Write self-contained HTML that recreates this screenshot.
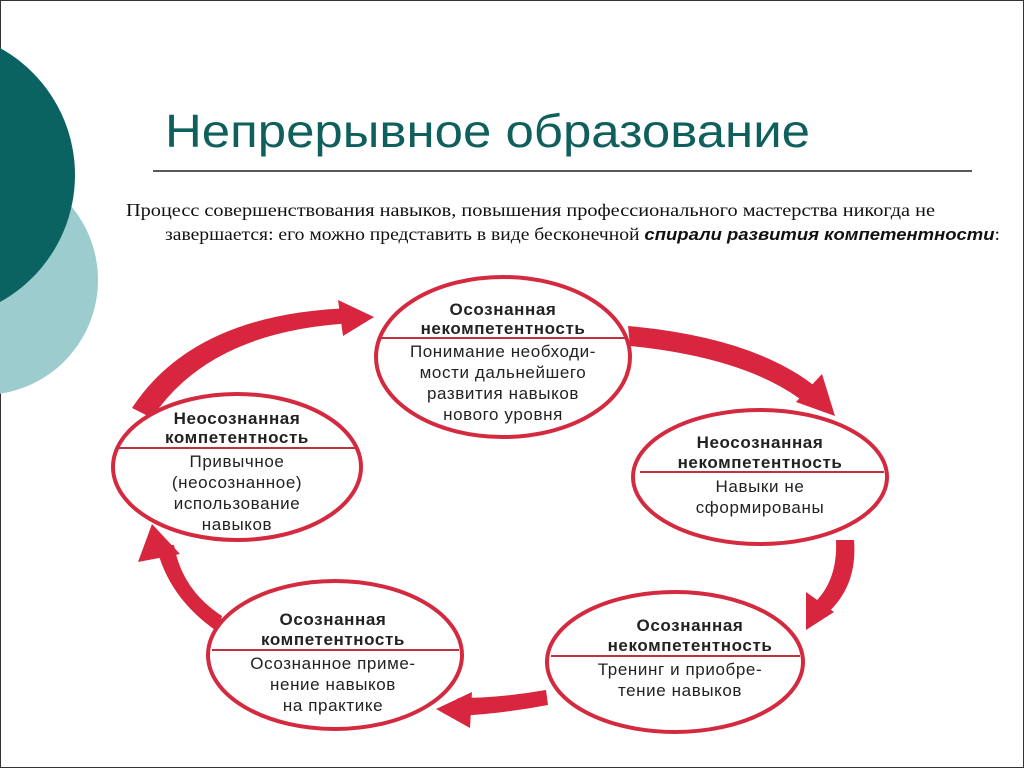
<!DOCTYPE html>
<html><head><meta charset="utf-8"><style>
html,body{margin:0;padding:0;background:#fff;}
body{width:1024px;height:768px;overflow:hidden;position:relative;}
</style></head><body>
<svg width="1024" height="768" viewBox="0 0 1024 768" xmlns="http://www.w3.org/2000/svg" style="position:absolute;left:0;top:0">
<rect x="0.5" y="0.5" width="1023" height="767" fill="#fff" stroke="#333" stroke-width="1"/>
<circle cx="-17" cy="280" r="115" fill="#9ccccd"/>
<circle cx="-70" cy="175" r="145" fill="#0a6360"/>
<text x="165" y="147" font-family="Liberation Sans, sans-serif" font-size="46" fill="#0f5f5c" textLength="645" lengthAdjust="spacingAndGlyphs">Непрерывное образование</text>
<line x1="153" y1="171" x2="972" y2="171" stroke="#222" stroke-width="1.5"/>
<text x="126" y="216" font-family="Liberation Serif, serif" font-size="17.5" fill="#111" textLength="809" lengthAdjust="spacingAndGlyphs">Процесс совершенствования навыков, повышения профессионального мастерства никогда не</text>
<text x="165" y="240" font-family="Liberation Serif, serif" font-size="17.5" fill="#111" textLength="835" lengthAdjust="spacingAndGlyphs">завершается: его можно представить в виде бесконечной <tspan font-family="Liberation Sans, sans-serif" font-weight="bold" font-style="italic" font-size="16.5">спирали развития компетентности</tspan>:</text>
<g fill="#d9263f">
<path d="M152 418 Q210 330 355 323 L355 308 Q195 312 132 408 Z"/>
<polygon points="374,317 338,300 343,336"/>
<path d="M628 326 Q760 338 822 392 L808 405 Q750 358 630 346 Z"/>
<polygon points="835,416 796,402 822,374"/>
<path d="M854 540 Q858 588 824 616 L812 605 Q838 582 836 540 Z"/>
<polygon points="806,630 806,592 834,612"/>
<path d="M548 705 Q500 714 458 716 L458 698 Q500 698 546 690 Z"/>
<polygon points="436,709 472,692 470,728"/>
<path d="M218 632 Q168 598 156 545 L174 545 Q182 590 222 616 Z"/>
<polygon points="152,524 138,562 180,554"/>
</g>
<g fill="#fff" stroke="#d42a40" stroke-width="4">
<ellipse cx="503" cy="357" rx="127" ry="80"/>
<ellipse cx="760" cy="477" rx="127" ry="67"/>
<ellipse cx="675" cy="662" rx="128" ry="70"/>
<ellipse cx="335" cy="655" rx="127" ry="74"/>
<ellipse cx="237" cy="467" rx="124" ry="73"/>
</g>
<g stroke="#c23040" stroke-width="2">
<line x1="378" y1="338" x2="628" y2="338"/>
<line x1="640" y1="472" x2="884" y2="472"/>
<line x1="551" y1="656" x2="800" y2="656"/>
<line x1="212" y1="650" x2="459" y2="650"/>
<line x1="116" y1="448" x2="358" y2="448"/>
</g>
<g font-family="Liberation Sans, DejaVu Sans, sans-serif" font-size="17" letter-spacing="0.6" text-anchor="middle" fill="#222">
<text x="503" y="315" font-weight="bold">Осознанная</text>
<text x="503" y="334" font-weight="bold">некомпетентность</text>
<text x="503" y="357">Понимание необходи-</text>
<text x="503" y="378">мости дальнейшего</text>
<text x="503" y="399">развития навыков</text>
<text x="503" y="420">нового уровня</text>

<text x="760" y="448" font-weight="bold">Неосознанная</text>
<text x="760" y="468" font-weight="bold">некомпетентность</text>
<text x="760" y="492">Навыки не</text>
<text x="760" y="513">сформированы</text>

<text x="690" y="631" font-weight="bold">Осознанная</text>
<text x="690" y="651" font-weight="bold">некомпетентность</text>
<text x="680" y="675">Тренинг и приобре-</text>
<text x="680" y="696">тение навыков</text>

<text x="333" y="625" font-weight="bold">Осознанная</text>
<text x="333" y="645" font-weight="bold">компетентность</text>
<text x="333" y="669">Осознанное приме-</text>
<text x="333" y="690">нение навыков</text>
<text x="333" y="711">на практике</text>

<text x="237" y="424" font-weight="bold">Неосознанная</text>
<text x="237" y="443" font-weight="bold">компетентность</text>
<text x="237" y="467">Привычное</text>
<text x="237" y="488">(неосознанное)</text>
<text x="237" y="509">использование</text>
<text x="237" y="530">навыков</text>
</g>
</svg>
</body></html>
